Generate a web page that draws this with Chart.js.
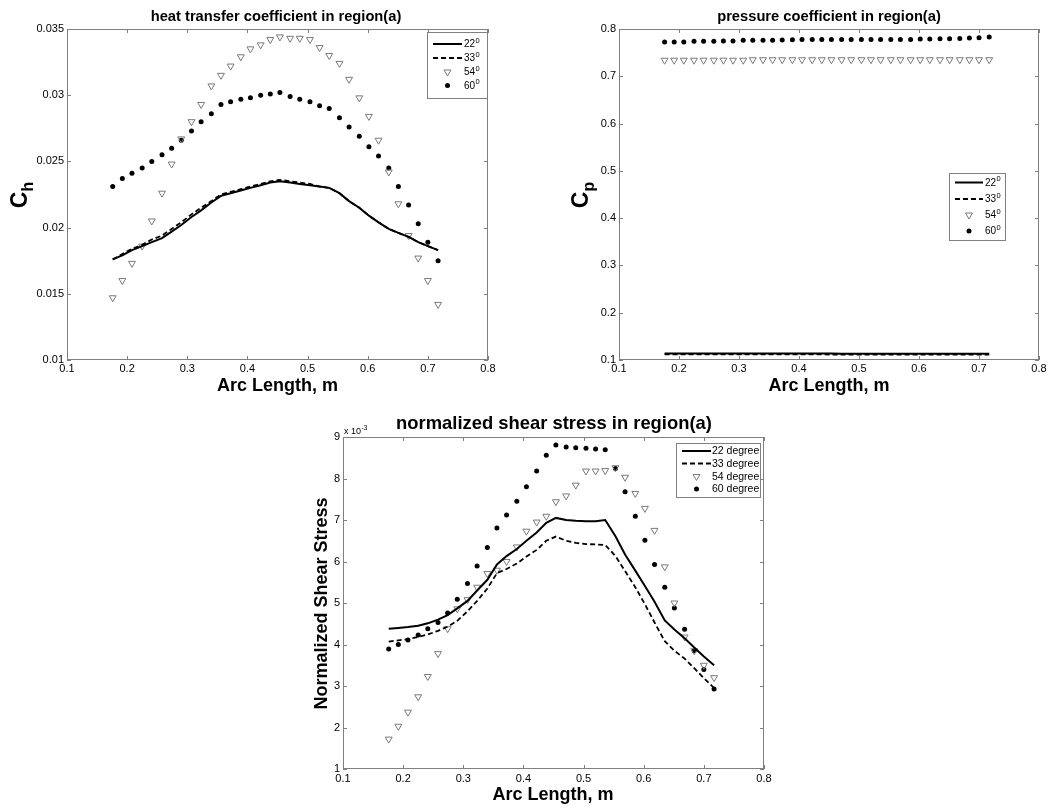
<!DOCTYPE html>
<html>
<head>
<meta charset="utf-8">
<script src="https://cdn.jsdelivr.net/npm/chart.js"></script>
<style>
  body { margin: 0; background: #fff; }
  canvas { position: absolute; }
</style>
</head>
<body>
<canvas id="heat" width="525" height="400" style="left:0;top:0"></canvas>
<canvas id="press" width="526" height="400" style="left:525px;top:0"></canvas>
<canvas id="shear" width="560" height="407" style="left:250px;top:400px"></canvas>
<script>
// arc length of the sample points (m)
const arcLength = [0.176, 0.192, 0.208, 0.225, 0.241, 0.258, 0.274, 0.290, 0.307, 0.323, 0.340, 0.356,
  0.372, 0.389, 0.405, 0.422, 0.438, 0.454, 0.471, 0.487, 0.504, 0.520, 0.536, 0.553, 0.569, 0.586,
  0.602, 0.618, 0.635, 0.651, 0.668, 0.684, 0.700, 0.717];
const angles = ['22', '33', '54', '60'];

// heat transfer coefficient C_h
const ch22 = [0.0176, 0.0179, 0.0183, 0.0186, 0.0189, 0.0192, 0.0197, 0.0202, 0.0208, 0.0213, 0.0219, 0.0224,
  0.0226, 0.0228, 0.0230, 0.0232, 0.0234, 0.0235, 0.0234, 0.0233, 0.0232, 0.0231, 0.0230, 0.0226, 0.0220, 0.0215,
  0.0209, 0.0204, 0.0199, 0.0196, 0.0193, 0.0189, 0.0186, 0.0183];
const ch33 = [0.0176, 0.0180, 0.0184, 0.0187, 0.0191, 0.0194, 0.0199, 0.0204, 0.0210, 0.0215, 0.0220, 0.0225,
  0.0227, 0.0229, 0.0231, 0.0233, 0.0235, 0.0236, 0.0235, 0.0234, 0.0233, 0.0231, 0.0230, 0.0226, 0.0220, 0.0215,
  0.0209, 0.0204, 0.0199, 0.0196, 0.0193, 0.0189, 0.0186, 0.0183];
const ch54 = [0.0147, 0.0160, 0.0173, 0.0186, 0.0205, 0.0226, 0.0248, 0.0267, 0.0280, 0.0293, 0.0307, 0.0315,
  0.0322, 0.0329, 0.0335, 0.0338, 0.0342, 0.0344, 0.0343, 0.0343, 0.0342, 0.0336, 0.0330, 0.0324, 0.0312, 0.0298,
  0.0284, 0.0266, 0.0242, 0.0218, 0.0194, 0.0177, 0.0160, 0.0142];
const ch60 = [0.0231, 0.0237, 0.0241, 0.0245, 0.0250, 0.0255, 0.0260, 0.0266, 0.0273, 0.0280, 0.0286, 0.0293,
  0.0295, 0.0297, 0.0298, 0.0300, 0.0301, 0.0302, 0.0299, 0.0297, 0.0295, 0.0292, 0.0290, 0.0283, 0.0276, 0.0269,
  0.0261, 0.0254, 0.0245, 0.0231, 0.0217, 0.0203, 0.0189, 0.0175];

// pressure coefficient C_p
const cp22 = [0.1135, 0.1135, 0.1135, 0.1135, 0.1135, 0.1135, 0.1135, 0.1135, 0.1135, 0.1135, 0.1135, 0.1135,
  0.1135, 0.1135, 0.1135, 0.1135, 0.1135, 0.1135, 0.1130, 0.1130, 0.1130, 0.1130, 0.1130, 0.1130, 0.1130, 0.1130,
  0.1130, 0.1130, 0.1130, 0.1130, 0.1130, 0.1130, 0.1130, 0.1130];
const cp33 = [0.1120, 0.1120, 0.1120, 0.1120, 0.1120, 0.1120, 0.1120, 0.1120, 0.1120, 0.1120, 0.1120, 0.1120,
  0.1120, 0.1120, 0.1120, 0.1120, 0.1120, 0.1115, 0.1115, 0.1115, 0.1115, 0.1115, 0.1115, 0.1115, 0.1115, 0.1115,
  0.1115, 0.1115, 0.1115, 0.1115, 0.1115, 0.1115, 0.1115, 0.1115];
const cp54 = [0.734, 0.734, 0.734, 0.734, 0.734, 0.734, 0.734, 0.734, 0.734, 0.735, 0.735, 0.735,
  0.735, 0.735, 0.735, 0.735, 0.735, 0.735, 0.735, 0.735, 0.735, 0.735, 0.735, 0.735, 0.735, 0.735,
  0.735, 0.735, 0.735, 0.735, 0.735, 0.735, 0.735, 0.735];
const cp60 = [0.7725, 0.7725, 0.7725, 0.774, 0.774, 0.774, 0.7746, 0.7746, 0.776, 0.776, 0.776, 0.776,
  0.7767, 0.7774, 0.778, 0.778, 0.778, 0.778, 0.778, 0.778, 0.778, 0.778, 0.778, 0.778, 0.778, 0.778,
  0.779, 0.779, 0.7795, 0.7795, 0.780, 0.781, 0.7817, 0.783];

// normalized shear stress, in units of 1e-3
const tau22 = [4.38, 4.40, 4.42, 4.45, 4.51, 4.60, 4.71, 4.87, 5.05, 5.30, 5.56, 5.93,
  6.13, 6.30, 6.50, 6.70, 6.93, 7.05, 7.00, 6.98, 6.97, 6.97, 7.00, 6.61, 6.17, 5.78,
  5.41, 5.03, 4.58, 4.36, 4.15, 3.93, 3.71, 3.50];
const tau33 = [4.07, 4.10, 4.13, 4.18, 4.24, 4.33, 4.43, 4.57, 4.80, 5.05, 5.35, 5.72,
  5.82, 5.95, 6.12, 6.28, 6.50, 6.60, 6.50, 6.45, 6.42, 6.41, 6.40, 6.13, 5.77, 5.38,
  4.97, 4.53, 4.08, 3.85, 3.66, 3.43, 3.19, 2.95];
const tau54 = [1.72, 2.03, 2.37, 2.74, 3.23, 3.78, 4.38, 4.86, 5.08, 5.38, 5.71, 5.79,
  6.00, 6.35, 6.73, 6.95, 7.09, 7.44, 7.58, 7.84, 8.18, 8.18, 8.19, 8.26, 8.03, 7.64,
  7.28, 6.75, 5.87, 5.00, 4.18, 3.85, 3.50, 3.20];
const tau60 = [3.89, 4.00, 4.11, 4.23, 4.38, 4.53, 4.76, 5.09, 5.47, 5.89, 6.34, 6.81,
  7.12, 7.45, 7.80, 8.18, 8.56, 8.81, 8.76, 8.74, 8.73, 8.71, 8.69, 8.24, 7.68, 7.09,
  6.51, 5.93, 5.38, 4.88, 4.37, 3.85, 3.40, 2.93];

const FONT = '"Liberation Sans", Arial, sans-serif';
Chart.defaults.font.family = FONT;

const pts = ys => ys.map((y, i) => ({ x: arcLength[i], y }));

function series(vals, suffix) {
  const lbl = i => angles[i] + suffix;
  return [
    { label: lbl(0), data: pts(vals[0]), showLine: true, borderColor: '#000', borderWidth: 2, pointRadius: 0 },
    { label: lbl(1), data: pts(vals[1]), showLine: true, borderColor: '#000', borderWidth: 1.8, borderDash: [5, 3], pointRadius: 0 },
    { label: lbl(2), data: pts(vals[2]), showLine: false, pointStyle: 'triangle', pointRotation: 180, pointRadius: 4,
      pointBorderColor: '#7a7a7a', pointBackgroundColor: 'rgba(0,0,0,0)', pointBorderWidth: 1 },
    { label: lbl(3), data: pts(vals[3]), showLine: false, pointStyle: 'circle', pointRadius: 2.5,
      pointBorderColor: '#000', pointBackgroundColor: '#000', pointBorderWidth: 0 }
  ];
}

// box axes with inward ticks on all four sides, plus titles
const frame = {
  id: 'frame',
  afterDatasetsDraw(chart) {
    const { ctx, chartArea: a, scales: { x, y } } = chart;
    ctx.save();
    ctx.strokeStyle = '#808080';
    ctx.lineWidth = 1;
    ctx.strokeRect(a.left + 0.5, a.top + 0.5, a.right - a.left - 1, a.bottom - a.top - 1);
    ctx.beginPath();
    x.ticks.forEach(t => {
      const px = Math.round(x.getPixelForValue(t.value)) + 0.5;
      ctx.moveTo(px, a.bottom); ctx.lineTo(px, a.bottom - 4);
      ctx.moveTo(px, a.top); ctx.lineTo(px, a.top + 4);
    });
    y.ticks.forEach(t => {
      const py = Math.round(y.getPixelForValue(t.value)) + 0.5;
      ctx.moveTo(a.left, py); ctx.lineTo(a.left + 4, py);
      ctx.moveTo(a.right, py); ctx.lineTo(a.right - 4, py);
    });
    ctx.stroke();
    ctx.restore();
  },
  afterDraw(chart, args, o) {
    const ctx = chart.ctx;
    ctx.save();
    ctx.translate(-o.off[0], -o.off[1]);
    ctx.fillStyle = '#000';
    ctx.textAlign = 'center';
    ctx.textBaseline = 'alphabetic';
    ctx.font = `bold ${o.title.size}px ${FONT}`;
    ctx.fillText(o.title.text, o.title.x, o.title.y);
    ctx.font = `bold 18px ${FONT}`;
    ctx.fillText('Arc Length, m', o.xTitle.x, o.xTitle.y);

    const yt = o.yTitle;
    ctx.translate(yt.x, yt.y);
    ctx.rotate(-Math.PI / 2);
    ctx.textAlign = 'left';
    ctx.font = `bold ${yt.size}px ${FONT}`;
    const w1 = ctx.measureText(yt.text).width;
    let w2 = 0;
    if (yt.sub) {
      ctx.font = `bold ${yt.subSize}px ${FONT}`;
      w2 = ctx.measureText(yt.sub).width;
    }
    const start = -(w1 + w2) / 2;
    ctx.font = `bold ${yt.size}px ${FONT}`;
    ctx.fillText(yt.text, start, 0);
    if (yt.sub) {
      ctx.font = `bold ${yt.subSize}px ${FONT}`;
      ctx.fillText(yt.sub, start + w1, yt.drop);
    }
    ctx.restore();

    if (o.exp) {
      ctx.save();
      ctx.translate(-o.off[0], -o.off[1]);
      ctx.fillStyle = '#000';
      ctx.textAlign = 'left';
      ctx.font = `9px ${FONT}`;
      ctx.fillText('x 10', o.exp.x, o.exp.y);
      const w = ctx.measureText('x 10').width;
      ctx.font = `6.5px ${FONT}`;
      ctx.fillText('-3', o.exp.x + w + 0.5, o.exp.y - 4);
      ctx.restore();
    }
  }
};

function drawMarker(ctx, ds, x, y) {
  ctx.beginPath();
  if (ds.pointStyle === 'triangle') {
    const r = ds.pointRadius;
    ctx.moveTo(x, y + r);
    ctx.lineTo(x - r * 0.866, y - r / 2);
    ctx.lineTo(x + r * 0.866, y - r / 2);
    ctx.closePath();
    ctx.strokeStyle = ds.pointBorderColor;
    ctx.lineWidth = ds.pointBorderWidth;
    ctx.stroke();
  } else {
    ctx.arc(x, y, ds.pointRadius, 0, Math.PI * 2);
    ctx.fillStyle = ds.pointBackgroundColor;
    ctx.fill();
  }
}

// matlab-like legend box
const legendBox = {
  id: 'legendBox',
  afterDraw(chart, args, o) {
    const ctx = chart.ctx;
    ctx.save();
    ctx.translate(-o.off[0], -o.off[1]);
    const [bx, by, bw, bh] = o.box;
    ctx.fillStyle = '#fff';
    ctx.fillRect(bx, by, bw, bh);
    ctx.strokeStyle = '#808080';
    ctx.lineWidth = 1;
    ctx.strokeRect(bx + 0.5, by + 0.5, bw, bh);
    const [s0, s1] = o.sample;
    chart.data.datasets.forEach((ds, i) => {
      const ry = o.rows[i];
      if (ds.showLine) {
        ctx.strokeStyle = ds.borderColor;
        ctx.lineWidth = ds.borderWidth;
        ctx.setLineDash(ds.borderDash || []);
        ctx.beginPath();
        ctx.moveTo(s0, ry); ctx.lineTo(s1, ry);
        ctx.stroke();
        ctx.setLineDash([]);
      } else {
        drawMarker(ctx, ds, (s0 + s1) / 2, ry);
      }
      ctx.fillStyle = '#000';
      ctx.textAlign = 'left';
      ctx.textBaseline = 'middle';
      ctx.font = `${o.size}px ${FONT}`;
      ctx.fillText(ds.label, o.textX, ry + 0.5);
      if (o.sup) {
        const w = ctx.measureText(ds.label).width;
        ctx.font = `${o.size * 0.75}px ${FONT}`;
        ctx.fillText(o.sup, o.textX + w + 0.5, ry - 3.5);
      }
    });
    ctx.restore();
  }
};

function makeChart(id, datasets, c) {
  return new Chart(document.getElementById(id), {
    type: 'scatter',
    data: { datasets },
    options: {
      responsive: false,
      animation: false,
      devicePixelRatio: 1,
      layout: { padding: c.pad },
      plugins: {
        legend: { display: false },
        tooltip: { enabled: false },
        frame: c.frame,
        legendBox: c.legend
      },
      scales: {
        x: {
          type: 'linear', min: 0.1, max: 0.8,
          grid: { display: false, drawTicks: false },
          border: { display: false },
          ticks: { stepSize: 0.1, autoSkip: false, maxRotation: 0, padding: c.xPad, color: '#000',
            font: { size: 11 }, callback: v => v.toFixed(1) },
          afterFit: s => { s.height = c.xH; }
        },
        y: {
          type: 'linear', min: c.yMin, max: c.yMax,
          grid: { display: false, drawTicks: false },
          border: { display: false },
          ticks: { stepSize: c.yStep, autoSkip: false, padding: 3, color: '#000',
            font: { size: 11 }, callback: c.yFmt },
          afterFit: s => { s.width = c.yW; }
        }
      }
    },
    plugins: [frame, legendBox]
  });
}

makeChart('heat', series([ch22, ch33, ch54, ch60], ''), {
  pad: { top: 29, right: 37, bottom: 0, left: 0 }, yW: 67, xH: 40, xPad: 2,
  yMin: 0.01, yMax: 0.035, yStep: 0.005, yFmt: v => String(+v.toFixed(3)),
  frame: {
    off: [0, 0],
    title: { text: 'heat transfer coefficient in region(a)', size: 14.7, x: 276, y: 21 },
    xTitle: { x: 277.5, y: 391 },
    yTitle: { text: 'C', sub: 'h', size: 23, subSize: 16, drop: 6, x: 27, y: 195 }
  },
  legend: { off: [0, 0], box: [427, 32, 60, 66], rows: [44, 58, 72, 85.5], sample: [433, 462], textX: 464, size: 10, sup: '0' }
});

makeChart('press', series([cp22, cp33, cp54, cp60], ''), {
  pad: { top: 29, right: 12, bottom: 0, left: 0 }, yW: 94, xH: 40, xPad: 2,
  yMin: 0.1, yMax: 0.8, yStep: 0.1, yFmt: v => v.toFixed(1),
  frame: {
    off: [525, 0],
    title: { text: 'pressure coefficient in region(a)', size: 14.7, x: 829, y: 21 },
    xTitle: { x: 829, y: 391 },
    yTitle: { text: 'C', sub: 'p', size: 23, subSize: 16, drop: 6, x: 588, y: 195 }
  },
  legend: { off: [525, 0], box: [949, 173, 56, 67], rows: [182.5, 199, 215, 231], sample: [955, 983], textX: 985, size: 10, sup: '0' }
});

makeChart('shear', series([tau22, tau33, tau54, tau60], ' degree'), {
  pad: { top: 37, right: 46, bottom: 0, left: 0 }, yW: 93, xH: 38, xPad: 3,
  yMin: 1, yMax: 9, yStep: 1, yFmt: v => String(v),
  frame: {
    off: [250, 400],
    title: { text: 'normalized shear stress in region(a)', size: 18.4, x: 554, y: 429 },
    xTitle: { x: 553, y: 800 },
    yTitle: { text: 'Normalized Shear Stress', sub: '', size: 18, x: 327, y: 603.5 },
    exp: { x: 344, y: 434 }
  },
  legend: { off: [250, 400], box: [676, 443, 84, 54], rows: [451, 463.5, 476.5, 489], sample: [682, 711], textX: 712, size: 10.5, sup: '' }
});
</script>
</body>
</html>
